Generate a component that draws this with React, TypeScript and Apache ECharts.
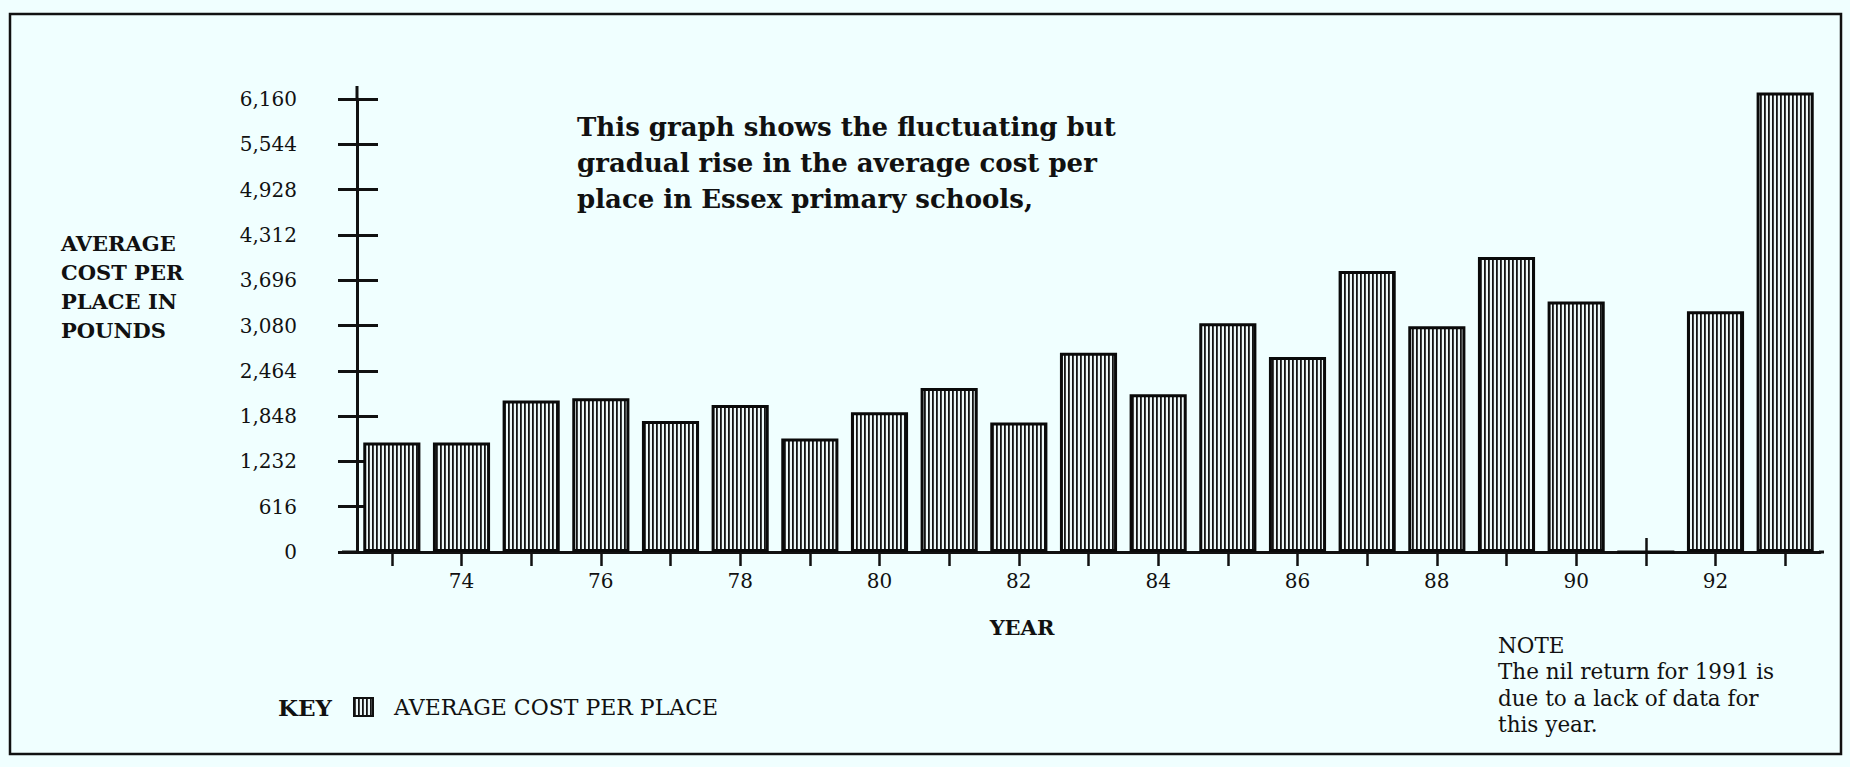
import React, { useEffect, useRef } from "react";
import * as echarts from "echarts";

// Financial years (19xx) along the category axis
const years = ["73", "74", "75", "76", "77", "78", "79", "80", "81", "82", "83", "84", "85", "86", "87", "88", "89", "90", "91", "92", "93"];

// Average cost per place in pounds (1991 is a nil return)
const costPerPlace = [1490, 1490, 2060, 2090, 1780, 2000, 1545, 1900, 2230, 1760, 2710, 2145, 3110, 2650, 3820, 3070, 4010, 3405, 0, 3275, 6250];

// Value axis: ten steps of 616 up to 6,160
const yMin = 0;
const yMax = 6160;
const yStep = 616;

const seriesName = "AVERAGE COST PER PLACE";
const titleLines = [
  "This graph shows the fluctuating but",
  "gradual rise in the average cost per",
  "place in Essex primary schools,",
];
const yTitleLines = ["AVERAGE", "COST PER", "PLACE IN", "POUNDS"];
const xTitle = "YEAR";
const keyLabel = "KEY";
const noteLines = ["NOTE", "The nil return for 1991 is", "due to a lack of data for", "this year."];

const FONT = "DejaVu Serif";
const INK = "#111111";
const PAPER = "#f0ffff";

function stripePattern() {
  const c = document.createElement("canvas");
  c.width = 4;
  c.height = 8;
  const ctx = c.getContext("2d")!;
  ctx.fillStyle = "#eef8f8";
  ctx.fillRect(0, 0, 4, 8);
  ctx.fillStyle = "#141414";
  ctx.fillRect(0, 0, 1.8, 8);
  return { image: c, repeat: "repeat" as const };
}

export default function App() {
  const ref = useRef<HTMLDivElement>(null);

  useEffect(() => {
    if (!ref.current) return;
    const chart = echarts.init(ref.current, undefined, { renderer: "svg" });
    const stripes = stripePattern();

    const gridLeft = 357;
    const gridRight = 30;
    const gridTop = 99;
    const gridBottom = 215;
    const W = 1850;
    const H = 767;
    const axisY = H - gridBottom;
    const axisRightX = W - gridRight;

    const thousands = (v: number) => v.toLocaleString("en-US");

    chart.setOption({
      animation: false,
      backgroundColor: PAPER,
      grid: { left: gridLeft, right: gridRight, top: gridTop, bottom: gridBottom, containLabel: false },
      legend: {
        data: [seriesName],
        left: 348,
        top: 691,
        icon: "rect",
        itemWidth: 19,
        itemHeight: 18,
        selectedMode: false,
        itemStyle: { color: stripes, borderColor: INK, borderWidth: 2 },
        textStyle: { fontFamily: FONT, fontSize: 22, color: INK, padding: [0, 0, 0, 16] },
      },
      xAxis: [
        {
          type: "category",
          data: years,
          position: "bottom",
          boundaryGap: true,
          axisLine: { show: true, lineStyle: { color: INK, width: 3 } },
          axisTick: { show: true, alignWithLabel: true, interval: 0, length: 14, lineStyle: { color: INK, width: 2.5 } },
          axisLabel: {
            interval: (i: number) => i % 2 === 1,
            margin: 19,
            fontFamily: FONT,
            fontSize: 20,
            color: INK,
          },
          splitLine: { show: false },
        },
        {
          type: "category",
          data: years,
          position: "bottom",
          boundaryGap: true,
          axisLine: { show: false },
          axisTick: { show: true, inside: true, alignWithLabel: true, interval: 0, length: 14, lineStyle: { color: INK, width: 2.5 } },
          axisLabel: { show: false },
          splitLine: { show: false },
        },
      ],
      yAxis: [
        {
          type: "value",
          position: "left",
          min: yMin,
          max: yMax,
          interval: yStep,
          axisLine: { show: true, lineStyle: { color: INK, width: 3 } },
          axisTick: { show: true, inside: false, length: 19, lineStyle: { color: INK, width: 3 } },
          axisLabel: { formatter: thousands, margin: 60, fontFamily: FONT, fontSize: 20, color: INK },
          splitLine: { show: false },
        },
        {
          type: "value",
          position: "left",
          min: yMin,
          max: yMax,
          interval: yStep,
          axisLine: { show: false },
          axisTick: { show: true, inside: true, length: 21, lineStyle: { color: INK, width: 3 } },
          axisLabel: { show: false },
          splitLine: { show: false },
        },
      ],
      series: [
        {
          name: seriesName,
          type: "bar",
          xAxisIndex: 0,
          yAxisIndex: 0,
          data: costPerPlace,
          barCategoryGap: "18%",
          clip: false,
          silent: true,
          z: 3,
          itemStyle: { color: stripes, borderColor: "#0a0a0a", borderWidth: 3 },
          emphasis: { disabled: true },
        },
      ],
      graphic: [
        {
          type: "rect",
          silent: true,
          shape: { x: 10, y: 14, width: 1831, height: 740 },
          style: { fill: "none", stroke: INK, lineWidth: 2.5 },
        },
        // axis line run-outs beyond the plotting area
        {
          type: "line",
          silent: true,
          shape: { x1: gridLeft, y1: 86, x2: gridLeft, y2: gridTop + 1 },
          style: { stroke: INK, lineWidth: 3 },
        },
        {
          type: "line",
          silent: true,
          shape: { x1: 342, y1: axisY, x2: gridLeft + 1, y2: axisY },
          style: { stroke: INK, lineWidth: 3 },
        },
        {
          type: "line",
          silent: true,
          shape: { x1: axisRightX - 1, y1: axisY, x2: 1824, y2: axisY },
          style: { stroke: INK, lineWidth: 3 },
        },
        {
          type: "text",
          silent: true,
          left: 577,
          top: 109,
          style: {
            text: titleLines.join("\n"),
            font: `bold 26px "${FONT}"`,
            lineHeight: 36,
            fill: INK,
          },
        },
        {
          type: "text",
          silent: true,
          left: 61,
          top: 229,
          style: {
            text: yTitleLines.join("\n"),
            font: `bold 21px "${FONT}"`,
            lineHeight: 29,
            fill: INK,
          },
        },
        {
          type: "text",
          silent: true,
          x: 1022,
          y: 627,
          style: {
            text: xTitle,
            font: `bold 21px "${FONT}"`,
            fill: INK,
            align: "center",
            verticalAlign: "middle",
          },
        },
        {
          type: "text",
          silent: true,
          x: 278,
          y: 707,
          style: {
            text: keyLabel,
            font: `bold 23px "${FONT}"`,
            fill: INK,
            verticalAlign: "middle",
          },
        },
        {
          type: "text",
          silent: true,
          left: 1498,
          top: 632,
          style: {
            text: noteLines.join("\n"),
            font: `21.5px "${FONT}"`,
            lineHeight: 26.5,
            fill: INK,
          },
        },
      ],
    });

    return () => chart.dispose();
  }, []);

  return (
    <div
      ref={ref}
      style={{ position: "fixed", left: 0, top: 0, width: 1850, height: 767, background: PAPER }}
    />
  );
}
